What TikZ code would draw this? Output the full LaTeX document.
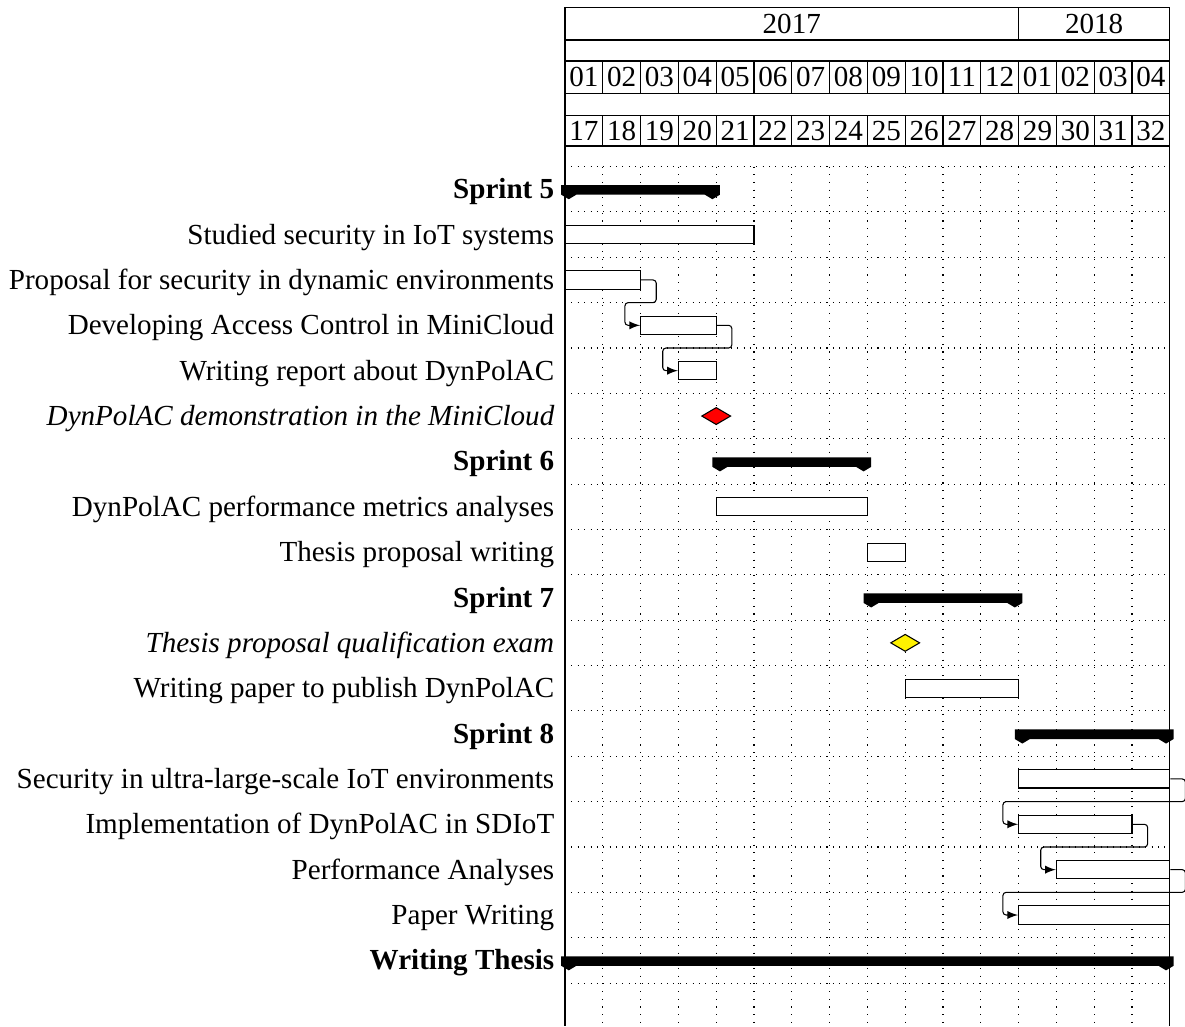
\documentclass[tikz,border=0pt]{standalone}
\usepackage{fontspec}
\setmainfont{Liberation Serif}
\usetikzlibrary{shapes.geometric,fit,calc}

% one column = one week, one row = one task
\newcommand\sprintbar[3]{% row, first column, last column
  \fill ({#2-0.1},{#1-0.09}) -- ({#3+0.1},{#1-0.09}) -- ({#3+0.1},{#1+0.12})
    -- ({#3-0.1},{#1+0.22}) -- ({#3-0.3},{#1+0.12}) -- ({#2+0.3},{#1+0.12})
    -- ({#2+0.1},{#1+0.22}) -- ({#2-0.1},{#1+0.12}) -- cycle;}

\begin{document}
\begin{tikzpicture}[x=0.5cm,y=-0.6cm,
  every node/.style={font=\fontsize{10.95}{13}\selectfont},
  hgridline/.style={line width=0.4pt,dash pattern=on 0.4pt off 2pt},
  vgridline/.style={line width=0.4pt,dash pattern=on 0.4pt off 2.5pt},
  frameline/.style={line width=0.5pt},
  titlecell/.style={draw,line width=0.4pt,inner sep=0pt,rectangle},
  taskbar/.style={draw,fill=white,line width=0.4pt,inner sep=0pt,rectangle},
  milestone/.style={draw,diamond,inner sep=0pt,minimum width=11pt,minimum height=6.5pt,line width=0.4pt},
  tasklabel/.style={anchor=base east,inner sep=0pt},
  grouplabel/.style={tasklabel,font=\fontsize{10.95}{13}\selectfont\bfseries},
  milestonelabel/.style={tasklabel,font=\fontsize{10.95}{13}\selectfont\itshape},
  link/.style={draw,line width=0.4pt,rounded corners=1.2pt,-latex}]

\useasboundingbox (-14.947,-4.172) rectangle (16.402,18.452);

% grid
\foreach \r in {-0.5,0.5,...,17.5}
  \draw[hgridline] (0,\r) -- (16,\r);
\foreach \c in {1,...,15}
  \draw[vgridline] (\c,-0.5) -- (\c,18.452);

% frame
\draw[frameline] (0,-4.0) -- (0,18.452);
\draw[frameline] (16,-4.0) -- (16,18.452);

% title rows
\node[titlecell,fit={(0,-4.0)(12,-3.29)}] (y2017) {};
\node at (y2017) {2017};
\node[titlecell,fit={(12,-4.0)(16,-3.29)}] (y2018) {};
\node at (y2018) {2018};
\foreach \m [count=\n from 0] in {01,02,03,04,05,06,07,08,09,10,11,12,01,02,03,04} {
  \node[titlecell,fit={(\n,-2.827)({\n+1},-2.121)}] (mon\n) {};
  \node at (mon\n) {\m};
}
\foreach \w [count=\n from 0] in {17,...,32} {
  \node[titlecell,fit={(\n,-1.636)({\n+1},-0.953)}] (wk\n) {};
  \node at (wk\n) {\w};
}

% labels
\node[grouplabel] (l0) at (-0.27,0.21) {Sprint 5};
\node[tasklabel] (l1) at (-0.27,1.21) {Studied security in IoT systems};
\node[tasklabel] (l2) at (-0.27,2.21) {Proposal for security in dynamic environments};
\node[tasklabel] (l3) at (-0.27,3.21) {Developing Access Control in MiniCloud};
\node[tasklabel] (l4) at (-0.27,4.21) {Writing report about DynPolAC};
\node[milestonelabel] (l5) at (-0.27,5.21) {DynPolAC demonstration in the MiniCloud};
\node[grouplabel] (l6) at (-0.27,6.21) {Sprint 6};
\node[tasklabel] (l7) at (-0.27,7.21) {DynPolAC performance metrics analyses};
\node[tasklabel] (l8) at (-0.27,8.21) {Thesis proposal writing};
\node[grouplabel] (l9) at (-0.27,9.21) {Sprint 7};
\node[milestonelabel] (l10) at (-0.27,10.21) {Thesis proposal qualification exam};
\node[tasklabel] (l11) at (-0.27,11.21) {Writing paper to publish DynPolAC};
\node[grouplabel] (l12) at (-0.27,12.21) {Sprint 8};
\node[tasklabel] (l13) at (-0.27,13.21) {Security in ultra-large-scale IoT environments};
\node[tasklabel] (l14) at (-0.27,14.21) {Implementation of DynPolAC in SDIoT};
\node[tasklabel] (l15) at (-0.27,15.21) {Performance Analyses};
\node[tasklabel] (l16) at (-0.27,16.21) {Paper Writing};
\node[grouplabel] (l17) at (-0.27,17.21) {Writing Thesis};

% sprints
\sprintbar{0}{0}{4}
\sprintbar{6}{4}{8}
\sprintbar{9}{8}{12}
\sprintbar{12}{12}{16}
\sprintbar{17}{0}{16}

% tasks
\node[taskbar,fit={(0,0.8)(5,1.2)}] (t1) {};
\node[taskbar,fit={(0,1.8)(2,2.2)}] (t2) {};
\node[taskbar,fit={(2,2.8)(4,3.2)}] (t3) {};
\node[taskbar,fit={(3,3.8)(4,4.2)}] (t4) {};
\node[taskbar,fit={(4,6.8)(8,7.2)}] (t7) {};
\node[taskbar,fit={(8,7.8)(9,8.2)}] (t8) {};
\node[taskbar,fit={(9,10.8)(12,11.2)}] (t11) {};
\node[taskbar,fit={(12,12.8)(16,13.2)}] (t13) {};
\node[taskbar,fit={(12,13.8)(15,14.2)}] (t14) {};
\node[taskbar,fit={(13,14.8)(16,15.2)}] (t15) {};
\node[taskbar,fit={(12,15.8)(16,16.2)}] (t16) {};

% milestones
\node[milestone,fill=red] (m5) at (4,5) {};
\node[milestone,fill=yellow] (m10) at (9,10) {};

% finish-to-start links
\draw[link] (t2.east) -- ++(0.4,0) -- ++(0,0.5) -| ($(t3.west)+(-0.4,0)$) -- (t3.west);
\draw[link] (t3.east) -- ++(0.4,0) -- ++(0,0.5) -| ($(t4.west)+(-0.4,0)$) -- (t4.west);
\draw[link] (t13.east) -- ++(0.4,0) -- ++(0,0.5) -| ($(t14.west)+(-0.4,0)$) -- (t14.west);
\draw[link] (t14.east) -- ++(0.4,0) -- ++(0,0.5) -| ($(t15.west)+(-0.4,0)$) -- (t15.west);
\draw[link] (t15.east) -- ++(0.4,0) -- ++(0,0.5) -| ($(t16.west)+(-0.4,0)$) -- (t16.west);

\end{tikzpicture}
\end{document}
